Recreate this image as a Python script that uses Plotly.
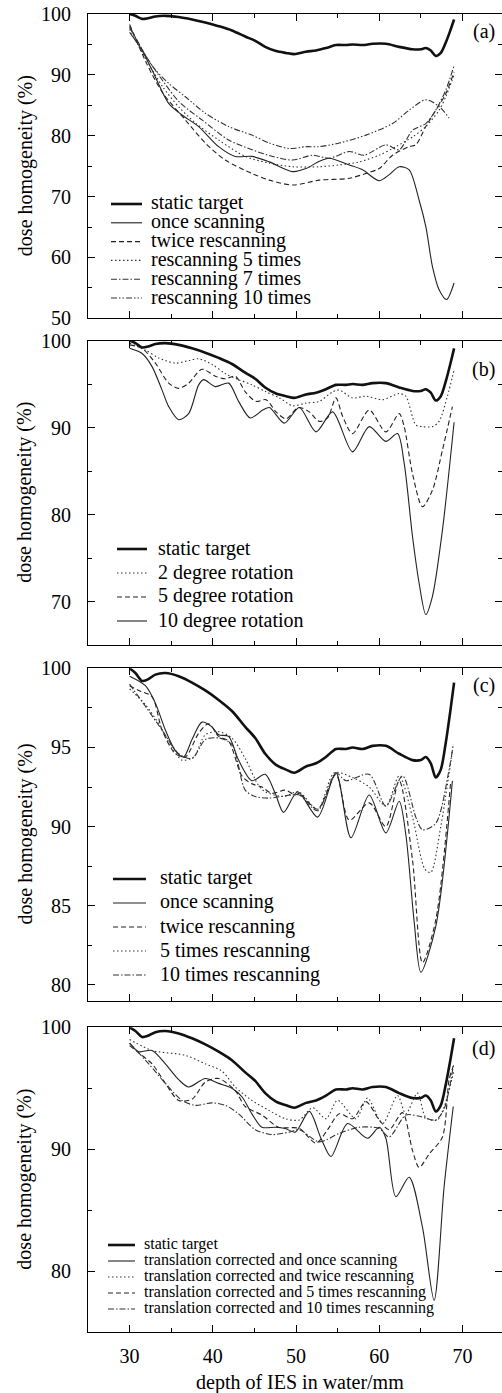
import plotly.graph_objects as go

# ---------------- data ----------------
static_x = [30.0, 30.7, 31.5, 32.2, 33.1, 34.3, 35.9, 37.5, 39.1, 40.7, 42.3, 43.9, 45.1, 46.3, 47.6, 48.8,
            49.8, 51.2, 52.4, 53.6, 54.8, 56.0, 56.8, 58.0, 59.2, 60.8, 62.4, 64.0, 65.0, 65.6, 66.2, 66.8,
            67.4, 68.0, 68.6, 69.0]
static_y = [100.0, 99.7, 99.2, 99.3, 99.6, 99.7, 99.5, 99.1, 98.6, 98.0, 97.3, 96.3, 95.6, 94.6, 93.9, 93.6,
            93.4, 93.8, 94.0, 94.4, 94.9, 94.9, 95.0, 94.9, 95.1, 95.1, 94.6, 94.2, 94.2, 94.4, 94.0, 93.1,
            93.6, 95.3, 97.5, 99.1]

# panel (a)
a_once_x = [30.0, 31.5, 32.7, 34.7, 36.3, 38.3, 40.7, 42.7, 44.7, 46.8, 49.6, 51.2, 52.8, 54.0, 56.4, 58.0,
            60.0, 61.2, 62.4, 63.6, 64.8, 65.6, 66.4, 67.2, 68.1, 69.0]
a_once_y = [97.0, 94.0, 90.8, 85.3, 83.4, 81.5, 78.2, 76.6, 76.6, 75.7, 74.1, 74.6, 75.8, 76.3, 75.2, 74.4,
            72.6, 73.6, 74.9, 74.4, 69.4, 65.1, 58.5, 54.7, 53.1, 55.8]
a_twice_x = [30.0, 32.0, 34.0, 36.7, 39.1, 41.5, 44.7, 46.8, 49.6, 52.8, 56.4, 58.4, 60.0, 61.6, 63.6, 64.4,
             65.6, 66.8, 68.0, 69.0]
a_twice_y = [98.3, 92.0, 87.0, 82.6, 78.8, 76.0, 73.8, 72.7, 71.9, 72.7, 73.0, 73.8, 74.6, 76.8, 78.2, 78.5,
             81.5, 84.2, 86.9, 90.5]
a_r5_x = [30.0, 32.0, 34.0, 36.0, 38.0, 40.7, 43.9, 46.8, 49.6, 52.8, 55.2, 57.6, 60.0, 62.0, 64.0, 65.6,
          67.2, 68.0, 69.0]
a_r5_y = [97.5, 92.5, 88.0, 84.6, 82.0, 79.3, 76.6, 75.5, 74.9, 74.9, 75.2, 75.7, 76.8, 78.2, 79.8, 81.5,
          84.2, 86.4, 90.0]
a_r7_x = [30.0, 32.0, 34.0, 36.0, 38.7, 41.9, 44.7, 47.2, 49.6, 52.0, 54.0, 56.4, 58.2, 60.8, 62.4, 64.0,
          65.6, 66.8, 68.0, 69.0]
a_r7_y = [97.8, 93.0, 89.0, 85.5, 82.6, 79.3, 77.7, 76.6, 76.0, 76.8, 76.3, 77.4, 76.8, 78.5, 77.7, 80.9,
          82.0, 84.2, 87.5, 91.5]
a_r10_x = [30.0, 32.7, 34.7, 36.7, 39.1, 41.9, 44.7, 46.8, 49.2, 51.2, 52.8, 55.2, 58.4, 61.6, 63.6, 65.6,
           67.2, 68.4]
a_r10_y = [98.0, 91.5, 88.6, 86.4, 83.7, 81.5, 80.1, 78.8, 77.9, 78.2, 78.2, 78.8, 80.1, 82.0, 84.2, 85.9,
           84.8, 82.9]

# panel (b)
b_deg2_x = [30.0, 31.9, 33.5, 35.5, 37.1, 38.3, 40.0, 41.5, 43.1, 44.7, 46.4, 48.0, 49.6, 51.2, 52.8, 54.4,
            55.2, 56.8, 58.4, 60.4, 62.4, 63.2, 64.4, 65.2, 66.4, 67.2, 68.2, 69.0]
b_deg2_y = [99.7, 98.9, 98.0, 97.4, 97.7, 97.9, 97.2, 96.2, 95.5, 94.9, 94.1, 93.4, 92.5, 92.8, 93.0, 94.1,
            94.3, 93.4, 93.6, 93.2, 93.9, 93.6, 90.3, 90.1, 90.1, 90.7, 93.6, 96.6]
b_deg5_x = [30.0, 31.5, 33.1, 34.7, 35.9, 37.1, 38.7, 40.3, 41.5, 42.7, 43.9, 45.2, 46.4, 47.6, 48.8, 50.3,
            51.6, 52.8, 53.8, 54.8, 55.6, 56.8, 58.8, 60.8, 62.4, 63.0, 64.0, 65.2, 66.4, 67.6, 68.8]
b_deg5_y = [99.5, 99.1, 97.4, 95.1, 94.5, 95.1, 96.7, 95.9, 95.6, 95.9, 94.1, 93.0, 93.2, 91.8, 91.0, 92.3,
            91.8, 90.7, 91.1, 93.4, 91.3, 89.3, 92.0, 89.5, 91.6, 90.1, 84.7, 80.9, 82.8, 87.4, 92.4]
b_deg10_x = [30.0, 31.5, 32.7, 33.9, 34.7, 35.9, 37.1, 38.3, 38.9, 40.3, 41.9, 43.1, 44.5, 46.0, 46.8, 48.6,
             50.4, 52.4, 54.4, 56.8, 58.8, 60.8, 62.2, 63.0, 64.0, 64.8, 65.6, 66.4, 67.6, 69.0]
b_deg10_y = [99.1, 98.5, 97.0, 94.3, 92.4, 90.9, 91.6, 94.9, 95.5, 94.7, 95.1, 93.0, 91.1, 92.0, 92.3, 90.5,
             92.3, 89.5, 91.8, 87.2, 90.1, 88.4, 89.3, 85.9, 77.5, 72.1, 68.5, 70.6, 78.2, 90.6]

# panel (c)
c_once_x = [30.0, 31.9, 33.1, 34.3, 35.5, 36.5, 37.5, 38.7, 39.9, 40.7, 41.9, 43.1, 44.7, 46.3, 47.5, 48.5,
            50.2, 52.6, 54.8, 56.6, 58.8, 60.8, 62.4, 63.2, 64.2, 65.0, 66.8, 68.8]
c_once_y = [99.5, 98.9, 97.8, 96.1, 94.8, 94.4, 95.5, 96.6, 96.3, 95.8, 95.7, 94.2, 92.9, 93.3, 92.1, 90.9,
            92.2, 90.6, 93.4, 89.3, 92.0, 89.6, 91.6, 89.5, 84.0, 80.8, 83.7, 92.9]
c_twice_x = [30.0, 31.1, 32.7, 33.9, 35.5, 36.7, 38.3, 39.5, 40.7, 41.9, 43.5, 44.7, 45.9, 47.1, 48.7, 49.9,
             50.4, 52.6, 54.8, 56.4, 58.8, 60.8, 62.4, 64.0, 65.2, 66.8, 68.6]
c_twice_y = [98.9, 98.6, 98.2, 96.1, 94.6, 94.4, 95.9, 96.5, 95.7, 95.4, 93.2, 92.7, 92.5, 92.1, 92.3, 92.0,
             92.1, 91.1, 93.3, 90.4, 91.5, 90.0, 92.9, 87.9, 81.4, 84.1, 92.9]
c_r5_x = [30.0, 31.9, 33.5, 35.1, 36.3, 37.7, 39.1, 40.7, 42.3, 43.9, 45.5, 46.3, 48.5, 50.3, 52.6, 54.6,
          56.8, 58.8, 60.8, 62.4, 64.0, 65.5, 66.2, 67.4, 68.8]
c_r5_y = [98.7, 97.7, 96.5, 95.0, 94.2, 94.4, 95.8, 96.0, 95.6, 94.3, 92.6, 92.2, 91.9, 92.2, 91.1, 93.4,
          93.1, 92.5, 91.3, 93.2, 90.6, 87.3, 87.1, 90.0, 94.8]
c_r10_x = [30.0, 31.9, 33.9, 35.9, 37.5, 39.1, 40.7, 42.3, 43.9, 45.1, 46.7, 49.5, 50.4, 52.6, 54.8, 56.0,
           58.8, 60.8, 62.8, 64.4, 65.2, 66.8, 68.4, 68.9]
c_r10_y = [99.0, 97.6, 96.1, 94.6, 94.3, 95.5, 95.6, 95.2, 92.3, 91.9, 91.8, 92.0, 92.0, 91.0, 93.4, 92.9,
           93.3, 91.3, 93.2, 90.6, 89.8, 90.2, 93.6, 95.2]

# panel (d)
d_once_x = [30.0, 31.1, 32.7, 34.3, 35.9, 37.1, 39.1, 40.7, 42.3, 43.5, 44.7, 45.9, 47.5, 48.7, 49.9, 51.6,
            53.0, 54.2, 56.2, 58.6, 60.0, 60.8, 62.0, 63.6, 65.2, 66.6, 67.8, 68.9]
d_once_y = [98.7, 98.0, 98.1, 97.0, 95.7, 95.1, 95.8, 95.4, 95.0, 94.3, 92.9, 91.8, 91.8, 91.7, 91.4, 93.1,
            90.9, 89.4, 92.1, 90.9, 91.8, 90.9, 86.1, 87.7, 83.6, 77.6, 86.9, 93.5]
d_twice_x = [30.0, 32.7, 36.7, 39.1, 41.1, 42.7, 44.7, 46.7, 48.7, 50.4, 52.0, 53.6, 55.0, 57.2, 58.6, 60.4,
             62.2, 63.2, 64.6, 65.6, 67.0, 69.0]
d_twice_y = [99.0, 98.1, 97.7, 97.0, 96.4, 95.1, 94.0, 93.2, 92.5, 92.4, 93.4, 92.5, 94.0, 92.5, 94.2, 92.1,
             94.4, 92.9, 94.6, 92.6, 92.4, 96.5]
d_r5_x = [30.0, 31.1, 32.7, 34.3, 35.9, 37.5, 39.1, 40.7, 42.7, 43.9, 45.9, 47.9, 50.4, 52.4, 53.8, 55.2,
          56.8, 58.4, 60.0, 61.2, 62.8, 64.0, 64.8, 66.0, 67.6, 68.4, 69.0]
d_r5_y = [98.5, 97.9, 97.0, 95.4, 94.0, 94.1, 95.5, 95.8, 94.8, 93.5, 92.8, 91.8, 91.7, 90.5, 91.6, 92.9,
          92.5, 93.9, 92.4, 91.6, 93.0, 89.9, 88.5, 89.6, 91.0, 95.7, 97.0]
d_r10_x = [30.0, 32.3, 34.3, 36.3, 37.9, 39.9, 41.5, 43.1, 45.1, 47.1, 49.2, 50.4, 52.8, 55.2, 57.6, 60.0,
           61.2, 63.2, 64.8, 66.8, 67.8, 68.9]
d_r10_y = [98.7, 97.0, 95.4, 94.0, 93.6, 93.8, 93.6, 92.9, 91.6, 91.2, 91.4, 91.6, 90.6, 91.3, 91.8, 91.7,
           91.0, 92.8, 92.7, 92.4, 93.3, 96.8]

panel_labels = ["(a)", "(b)", "(c)", "(d)"]
y_ranges = [[50, 100], [65, 100], [79, 100], [75, 100]]
y_dticks = [10, 10, 5, 10]
x_range = [25, 74.76]
x_title = "depth of IES in water/mm"
y_title = "dose homogeneity (%)"

# ---------------- styles ----------------
W, H = 502, 1393
ML, MR, MT, MB = 88, 0, 14, 61
PW, PH = W - ML - MR, H - MT - MB
FONT = "Liberation Serif, Times New Roman, serif"

THICK = dict(color="#111", width=2.6, dash="solid")
SOLID = dict(color="#222", width=1.1, dash="solid")
DASH = dict(color="#222", width=1.1, dash="5px,3px")
DOT = dict(color="#333", width=1.1, dash="1.5px,2.5px")
DASHDOT = dict(color="#333", width=1.1, dash="6px,2px,1.5px,2px")
DASHDOTDOT = dict(color="#333", width=1.1, dash="6px,2px,1.5px,2px,1.5px,2px")


def px2x(p):
    return (p - ML) / PW


def py2y(p):
    return (H - MB - p) / PH


panel_px = [(14.0, 318.3), (340.5, 645.0), (668.3, 1000.7), (1027.3, 1332.0)]

panels = [
    [("static target", static_x, static_y, THICK),
     ("once scanning", a_once_x, a_once_y, SOLID),
     ("twice rescanning", a_twice_x, a_twice_y, DASH),
     ("rescanning 5 times", a_r5_x, a_r5_y, DOT),
     ("rescanning 7 times", a_r7_x, a_r7_y, DASHDOT),
     ("rescanning 10 times", a_r10_x, a_r10_y, DASHDOTDOT)],
    [("static target", static_x, static_y, THICK),
     ("2 degree rotation", b_deg2_x, b_deg2_y, DOT),
     ("5 degree rotation", b_deg5_x, b_deg5_y, DASH),
     ("10 degree rotation", b_deg10_x, b_deg10_y, SOLID)],
    [("static target", static_x, static_y, THICK),
     ("once scanning", c_once_x, c_once_y, SOLID),
     ("twice rescanning", c_twice_x, c_twice_y, DASH),
     ("5 times rescanning", c_r5_x, c_r5_y, DOT),
     ("10 times rescanning", c_r10_x, c_r10_y, DASHDOT)],
    [("static target", static_x, static_y, THICK),
     ("translation corrected and once scanning", d_once_x, d_once_y, SOLID),
     ("translation corrected and twice rescanning", d_twice_x, d_twice_y, DOT),
     ("translation corrected and 5 times rescanning", d_r5_x, d_r5_y, DASH),
     ("translation corrected and 10 times rescanning", d_r10_x, d_r10_y, DASHDOT)],
]

legend_geo = [
    (111, 142, 149, 204, 18.8, 20),
    (117, 147, 156, 549, 24.0, 20),
    (113, 146, 158, 879, 24.0, 20),
    (108, 135, 142, 1245, 16.0, 16),
]
label_px = [(483.5, 32), (483.5, 369), (483.5, 685), (483.5, 1048)]

fig = go.Figure()
shapes, annotations = [], []

for i, series in enumerate(panels):
    k = "" if i == 0 else str(i + 1)
    for name, xs, ys, st in series:
        fig.add_trace(go.Scatter(x=xs, y=ys, mode="lines", name=name, showlegend=False,
                                 line=dict(color=st["color"], width=st["width"], dash=st["dash"],
                                           shape="spline", smoothing=0.8),
                                 xaxis="x" + k, yaxis="y" + k, hoverinfo="skip"))
    top, bot = panel_px[i]
    dom = [py2y(bot), py2y(top)]
    last = i == 3
    fig.update_layout(**{
        "xaxis" + k: dict(range=x_range, domain=[0, 1], anchor="y" + k, showline=True, linecolor="#000",
                          linewidth=1.2, mirror="ticks", ticks="inside", ticklen=7, tickcolor="#000",
                          tickwidth=1.2, dtick=10, tick0=30, showgrid=False, zeroline=False,
                          showticklabels=last, ticklabelstandoff=6,
                          minor=dict(ticks="inside", ticklen=4, dtick=5, tick0=25, tickcolor="#000",
                                     tickwidth=1.2, showgrid=False),
                          tickfont=dict(family=FONT, size=20, color="#000")),
        "yaxis" + k: dict(range=y_ranges[i], domain=dom, anchor="x" + k, showline=True, linecolor="#000",
                          linewidth=1.2, mirror="ticks", ticks="inside", ticklen=7, tickcolor="#000",
                          tickwidth=1.2, dtick=y_dticks[i], showgrid=False, zeroline=False,
                          minor=dict(ticks="inside", ticklen=4, dtick=y_dticks[i] / 2, tickcolor="#000",
                                     tickwidth=1.2, showgrid=False),
                          tickfont=dict(family=FONT, size=20, color="#000"), ticklabelstandoff=12),
    })
    annotations.append(dict(x=px2x(25), y=py2y((top + bot) / 2), xref="paper", yref="paper",
                            text=y_title, textangle=-90, showarrow=False, xanchor="center", yanchor="middle",
                            font=dict(family=FONT, size=20, color="#000")))
    lx, ly = label_px[i]
    annotations.append(dict(x=px2x(lx), y=py2y(ly), xref="paper", yref="paper", text=panel_labels[i],
                            showarrow=False, xanchor="center", yanchor="middle",
                            font=dict(family=FONT, size=20, color="#000")))
    x0, x1, tx, y0, step, fs = legend_geo[i]
    for j, (name, xs, ys, st) in enumerate(series):
        yy = y0 + j * step
        shapes.append(dict(type="line", xref="paper", yref="paper", x0=px2x(x0), x1=px2x(x1),
                           y0=py2y(yy), y1=py2y(yy),
                           line=dict(color=st["color"], width=st["width"], dash=st["dash"])))
        annotations.append(dict(x=px2x(tx), y=py2y(yy - 1), xref="paper", yref="paper", text=name,
                                showarrow=False, xanchor="left", yanchor="middle",
                                font=dict(family=FONT, size=fs, color="#000")))

annotations.append(dict(x=px2x(300), y=py2y(1382), xref="paper", yref="paper", text=x_title,
                        showarrow=False, xanchor="center", yanchor="middle",
                        font=dict(family=FONT, size=20, color="#000")))

fig.update_layout(width=W, height=H, margin=dict(l=ML, r=MR, t=MT, b=MB, pad=0),
                  paper_bgcolor="white", plot_bgcolor="white", showlegend=False,
                  shapes=shapes, annotations=annotations,
                  font=dict(family=FONT, size=20, color="#000"))

fig.write_html("out.html", config={"displayModeBar": False},
               post_script="document.body.style.margin='0px';document.body.style.overflow='hidden';")
